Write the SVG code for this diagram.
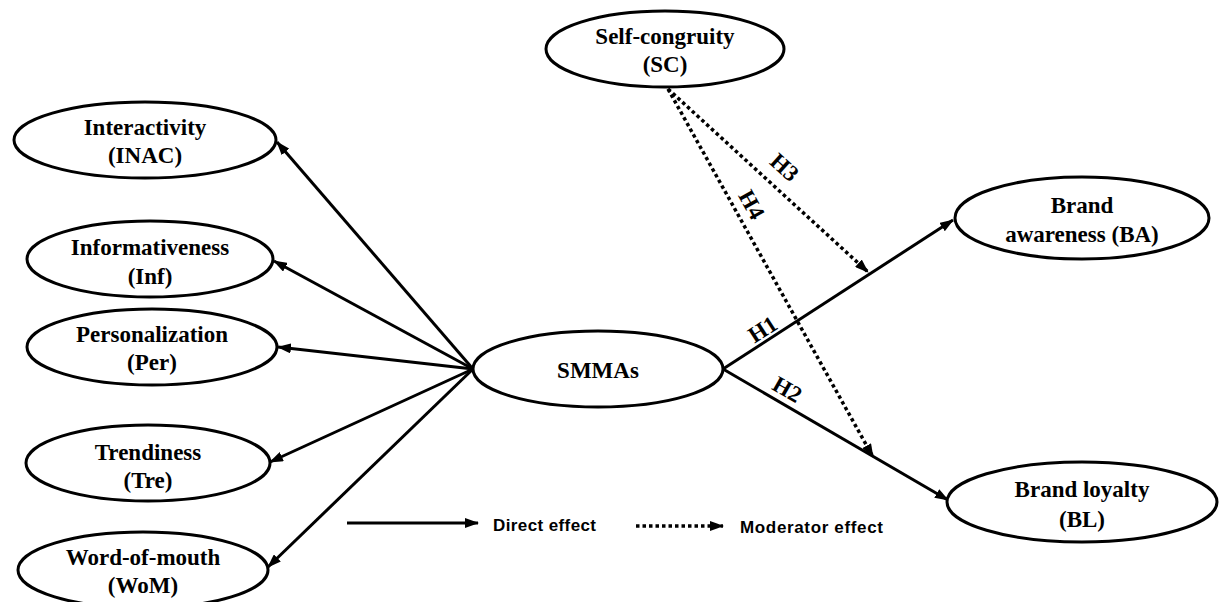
<svg xmlns="http://www.w3.org/2000/svg" width="1223" height="602" viewBox="0 0 1223 602">
<style>
.node ellipse{fill:#fff;stroke:#000;stroke-width:3}
.lbl{font-family:"Liberation Serif","Times New Roman",serif;font-weight:bold;font-size:23px;text-anchor:middle;fill:#000}
.h{font-family:"Liberation Serif","Times New Roman",serif;font-weight:bold;font-size:23px;text-anchor:middle;fill:#000}
.leg{font-family:"Liberation Sans",Arial,sans-serif;font-weight:bold;font-size:17px;fill:#000}
.solid{stroke:#000;stroke-width:3;fill:none;marker-end:url(#ah)}
.dot{stroke:#000;stroke-width:3.5;stroke-dasharray:3.5 3;fill:none;marker-end:url(#ah)}
</style>
<defs>
<marker id="ah" markerUnits="userSpaceOnUse" markerWidth="14" markerHeight="10" refX="13" refY="5" orient="auto">
<path d="M0,0 L14,5 L0,10 z" fill="#000"/>
</marker>
</defs>
<rect width="1223" height="602" fill="#fff"/>
<g id="connectors">
<line class="solid" x1="473" y1="369" x2="277" y2="142"/>
<line class="solid" x1="473" y1="369" x2="274" y2="261"/>
<line class="solid" x1="473" y1="369" x2="278" y2="347"/>
<line class="solid" x1="473" y1="369" x2="270" y2="462"/>
<line class="solid" x1="473" y1="369" x2="268" y2="567"/>
<line class="solid" x1="723" y1="369" x2="953" y2="220"/>
<line class="solid" x1="723" y1="369" x2="948" y2="500"/>
<line class="dot" x1="668" y1="89" x2="868" y2="272"/>
<line class="dot" x1="668" y1="89" x2="873" y2="457"/>
<text class="h" transform="translate(763,330) rotate(-33)" x="0" y="7">H1</text>
<text class="h" transform="translate(787,390) rotate(30)" x="0" y="7">H2</text>
<text class="h" transform="translate(784,168) rotate(42)" x="0" y="7">H3</text>
<text class="h" transform="translate(751,205) rotate(61)" x="0" y="7">H4</text>
</g>
<g id="INAC" class="node"><ellipse cx="145" cy="140" rx="131" ry="38"/><text class="lbl" x="145" y="135">Interactivity</text><text class="lbl" x="145" y="163">(INAC)</text></g>
<g id="Inf" class="node"><ellipse cx="150" cy="259" rx="123" ry="38"/><text class="lbl" x="150" y="255">Informativeness</text><text class="lbl" x="150" y="284">(Inf)</text></g>
<g id="Per" class="node"><ellipse cx="152" cy="347" rx="125" ry="38"/><text class="lbl" x="152" y="342">Personalization</text><text class="lbl" x="152" y="370">(Per)</text></g>
<g id="Tre" class="node"><ellipse cx="148" cy="463" rx="122" ry="38"/><text class="lbl" x="148" y="460">Trendiness</text><text class="lbl" x="148" y="488">(Tre)</text></g>
<g id="WoM" class="node"><ellipse cx="143" cy="570" rx="125" ry="38"/><text class="lbl" x="143" y="565">Word-of-mouth</text><text class="lbl" x="143" y="593">(WoM)</text></g>
<g id="SMMAs" class="node"><ellipse cx="598" cy="369" rx="125" ry="38"/><text class="lbl" x="598" y="378">SMMAs</text></g>
<g id="SC" class="node"><ellipse cx="665" cy="49" rx="119" ry="38"/><text class="lbl" x="665" y="44">Self-congruity</text><text class="lbl" x="665" y="72">(SC)</text></g>
<g id="BA" class="node"><ellipse cx="1082" cy="218" rx="127" ry="41"/><text class="lbl" x="1082" y="213">Brand</text><text class="lbl" x="1082" y="242">awareness (BA)</text></g>
<g id="BL" class="node"><ellipse cx="1082" cy="502" rx="135" ry="40"/><text class="lbl" x="1082" y="497">Brand loyalty</text><text class="lbl" x="1082" y="527">(BL)</text></g>
<g id="legend">
<line class="solid" x1="347" y1="523" x2="478" y2="523"/>
<text class="leg" x="493" y="531" textLength="103">Direct effect</text>
<line class="dot" x1="636" y1="526" x2="723" y2="526"/>
<text class="leg" x="740" y="533" textLength="143">Moderator effect</text>
</g>
</svg>
